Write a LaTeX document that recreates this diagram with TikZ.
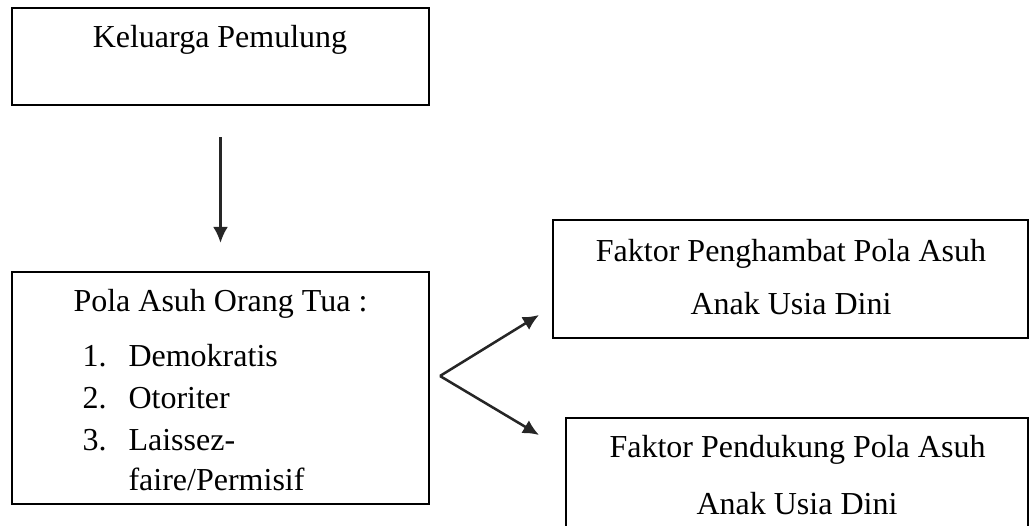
\documentclass[tikz,border=0pt]{standalone}
\usepackage{fontspec}
\setmainfont{Liberation Serif}
\usetikzlibrary{arrows.meta, positioning}

\tikzset{
    kotak/.style={draw, line width=0.7pt, inner sep=0pt, outer sep=0pt},
    teks/.style={font=\fontsize{12}{14}\selectfont, inner sep=0pt},
    panah/.style={line width=0.95pt, draw=black!85, -{Latex[length=6pt, width=5.6pt]}}
}

\begin{document}
\begin{tikzpicture}[x=0.375pt, y=-0.375pt]
    \clip (0,0) rectangle (1030,526);
    % 1. Kotak
    \node[kotak, minimum width=156.4pt, minimum height=36.4pt] (keluarga) at (220.5,56.5) {};
    \node[kotak, minimum width=156.4pt, minimum height=87pt] (pola) at (220.5,388) {};
    \node[kotak, minimum width=178.1pt, minimum height=44.25pt] (hambat) at (790.5,279) {};
    \node[kotak, minimum width=173.25pt, minimum height=48.75pt] (dukung) at (797,483) {};

    % 2. Teks
    \node[teks, anchor=base] (tkeluarga) at (220,48) {Keluarga Pemulung};
    \node[teks, anchor=base west] (tpola) at (73,312) {Pola Asuh Orang Tua :};
    \foreach \no/\isi/\yy in {1/Demokratis/367, 2/Otoriter/409, 3/Laissez-/451} {
        \node[teks, anchor=base west] (no\no) at (82,\yy) {\no.};
        \node[teks, anchor=base west] (isi\no) at (128,\yy) {\isi};
    }
    \node[teks, anchor=base west] (isi3b) at (128,491) {faire/Permisif};
    \node[teks, anchor=base] (thambat1) at (791,262) {Faktor Penghambat Pola Asuh};
    \node[teks, anchor=base] (thambat2) at (791,315) {Anak Usia Dini};
    \node[teks, anchor=base] (tdukung1) at (797.5,458) {Faktor Pendukung Pola Asuh};
    \node[teks, anchor=base] (tdukung2) at (797,515) {Anak Usia Dini};

    % 3. Panah
    \draw[panah, shorten <=12pt, shorten >=10.9pt] (keluarga.south) -- (pola.north);
    \coordinate (cabang) at (440,376);
    \coordinate (ujungatas) at (539,315);
    \coordinate (ujungbawah) at (539,435);
    \draw[panah] (cabang) -- (ujungatas);
    \draw[panah] (cabang) -- (ujungbawah);
\end{tikzpicture}
\end{document}
